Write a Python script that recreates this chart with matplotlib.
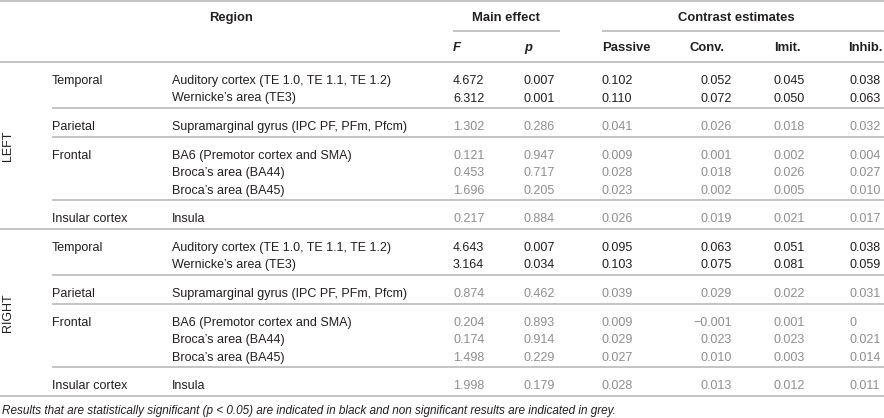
import matplotlib
matplotlib.use('Agg')
import matplotlib.pyplot as plt

plt.rcParams['font.family'] = ['Liberation Sans', 'DejaVu Sans']

# Table data
sides = ['LEFT', 'RIGHT']
lobes = ['Temporal', 'Parietal', 'Frontal', 'Insular cortex']
areas = [
    ['Auditory cortex (TE 1.0, TE 1.1, TE 1.2)', "Wernicke\u2019s area (TE3)"],
    ['Supramarginal gyrus (IPC PF, PFm, Pfcm)'],
    ['BA6 (Premotor cortex and SMA)', "Broca\u2019s area (BA44)", "Broca\u2019s area (BA45)"],
    ['Insula'],
]

F_left = [4.672, 6.312, 1.302, 0.121, 0.453, 1.696, 0.217]
p_left = [0.007, 0.001, 0.286, 0.947, 0.717, 0.205, 0.884]
passive_left = [0.102, 0.110, 0.041, 0.009, 0.028, 0.023, 0.026]
conv_left = [0.052, 0.072, 0.026, 0.001, 0.018, 0.002, 0.019]
imit_left = [0.045, 0.050, 0.018, 0.002, 0.026, 0.005, 0.021]
inhib_left = [0.038, 0.063, 0.032, 0.004, 0.027, 0.010, 0.017]

F_right = [4.643, 3.164, 0.874, 0.204, 0.174, 1.498, 1.998]
p_right = [0.007, 0.034, 0.462, 0.893, 0.914, 0.229, 0.179]
passive_right = [0.095, 0.103, 0.039, 0.009, 0.029, 0.027, 0.028]
conv_right = [0.063, 0.075, 0.029, -0.001, 0.023, 0.010, 0.013]
imit_right = [0.051, 0.081, 0.022, 0.001, 0.023, 0.003, 0.012]
inhib_right = [0.038, 0.059, 0.031, 0.0, 0.021, 0.014, 0.011]

columns = {
    'LEFT': [F_left, p_left, passive_left, conv_left, imit_left, inhib_left],
    'RIGHT': [F_right, p_right, passive_right, conv_right, imit_right, inhib_right],
}
sub_headers = ['F', 'p', 'Passive', 'Conv.', 'Imit.', 'Inhib.']

footnote = ('Results that are statistically significant (p < 0.05) are indicated in black '
            'and non significant results are indicated in grey.')

# Layout (pixels)
BLACK = '#231f20'
GREY = '#8f8f8f'
RULE = '#b4b4b4'
FS = 9.0
FS_HEAD = 9.4
FS_NOTE = 8.5
DY = 2.0
col_x = [453, 524, 602, 732, 774, 849]
col_ha = ['left', 'left', 'left', 'right', 'left', 'left']
head_x = [453, 524, 602, 690, 774, 848]
ROW_PITCH = 17.5
TOP_PAD = 17.0
BOTTOM_PAD = 11.6


def fmt(v):
    if v == 0:
        return '0'
    return f'{v:.3f}'.replace('-', '\u2212')


fig = plt.figure(figsize=(8.84, 4.18), dpi=100)
ax = fig.add_axes([0, 0, 1, 1])
ax.set_xlim(0, 884)
ax.set_ylim(418, 0)
ax.axis('off')

# header
ax.hlines(1, 0, 884, color=RULE, lw=1.1)
ax.text(231, 16 + DY, 'Region', fontsize=FS_HEAD, fontweight='bold', color=BLACK,
        ha='center', va='center')
ax.text(506, 16 + DY, 'Main effect', fontsize=FS_HEAD, fontweight='bold', color=BLACK,
        ha='center', va='center')
ax.text(736, 16 + DY, 'Contrast estimates', fontsize=FS_HEAD, fontweight='bold', color=BLACK,
        ha='center', va='center')
ax.hlines(31, 453, 560, color=RULE, lw=1.1)
ax.hlines(31, 602, 884, color=RULE, lw=1.1)
for i, h in enumerate(sub_headers):
    style = 'italic' if h in ('F', 'p') else 'normal'
    ax.text(head_x[i], 46 + DY, h, fontsize=FS_HEAD, fontweight='bold', fontstyle=style,
            color=BLACK, ha='left', va='center')
ax.hlines(62, 0, 884, color=RULE, lw=1.1)

y = 62
for side in sides:
    block_top = y
    vals = columns[side]
    r = 0
    for g, lobe in enumerate(lobes):
        first = y + TOP_PAD
        for k, area in enumerate(areas[g]):
            yr = first + k * ROW_PITCH + DY
            if k == 0:
                ax.text(52, yr, lobe, fontsize=FS, color=BLACK, ha='left', va='center')
            ax.text(172, yr, area, fontsize=FS, color=BLACK, ha='left', va='center')
            sig = vals[1][r] < 0.05
            c = BLACK if sig else GREY
            for j in range(6):
                ax.text(col_x[j], yr, fmt(vals[j][r]), fontsize=FS, color=c,
                        ha=col_ha[j], va='center')
            r += 1
        y = first + (len(areas[g]) - 1) * ROW_PITCH + BOTTOM_PAD
        x0 = 0 if g == len(lobes) - 1 else 52
        ax.hlines(y, x0, 884, color=RULE, lw=1.1)
    ax.text(8, (block_top + y) / 2, side, fontsize=FS, color=BLACK, rotation=90,
            ha='center', va='center')

ax.text(2, 411, footnote, fontsize=FS_NOTE, fontstyle='italic', color=BLACK,
        ha='left', va='center')

fig.savefig('out.png', dpi=100)
